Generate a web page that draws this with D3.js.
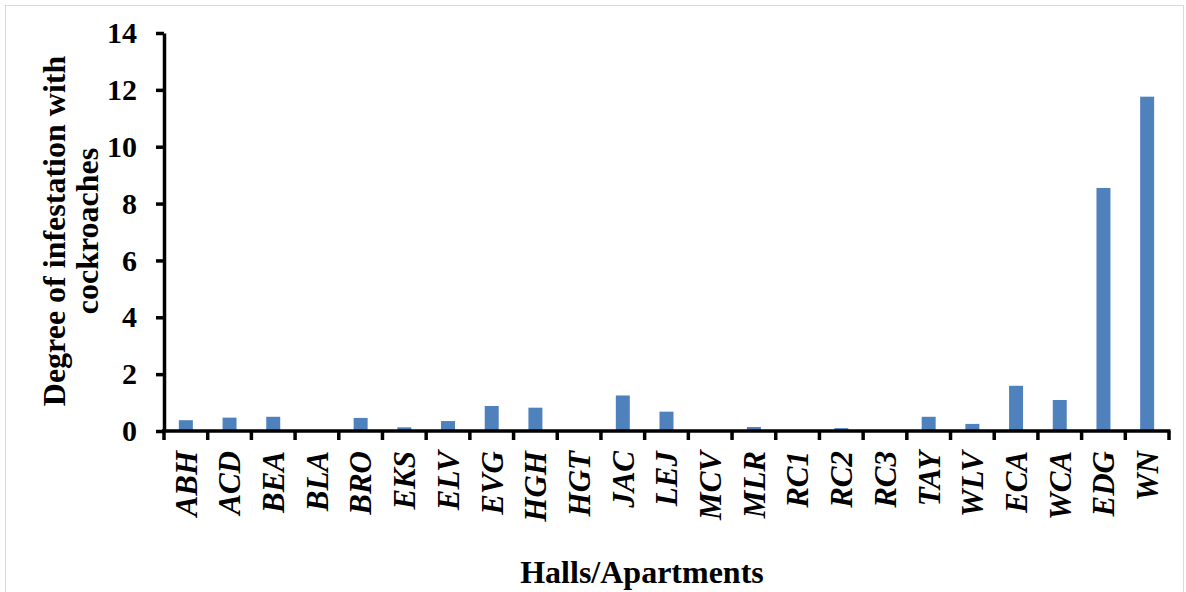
<!DOCTYPE html>
<html><head><meta charset="utf-8">
<script src="https://cdn.jsdelivr.net/npm/d3@7"></script>
<style>html,body{margin:0;padding:0;background:#fff;}svg{display:block;}</style>
</head><body>
<svg id="chart" width="1186" height="592"></svg>
<script>
const categories = ["ABH","ACD","BEA","BLA","BRO","EKS","ELV","EVG","HGH","HGT","JAC","LEJ","MCV","MLR","RC1","RC2","RC3","TAY","WLV","ECA","WCA","EDG","WN"];
const values = [0.38,0.47,0.50,0,0.46,0.13,0.35,0.88,0.82,0,1.25,0.68,0,0.14,0,0.1,0,0.5,0.25,1.59,1.09,8.55,11.76];
const yTicks = [0,2,4,6,8,10,12,14];
const yTitle = ["Degree of infestation with","cockroaches"];
const xTitle = "Halls/Apartments";

const svg = d3.select("#chart");
const font = "'Liberation Serif','Times New Roman',serif";

svg.append("rect").attr("x",5.5).attr("y",5.5).attr("width",1178).attr("height",620)
  .attr("fill","none").attr("stroke","#d9d9d9").attr("stroke-width",1);

const x = d3.scaleBand().domain(categories).range([164,1169]).paddingInner(0.68).paddingOuter(0.34);
const y = d3.scaleLinear().domain([0,14]).range([431,33]);

svg.append("g").selectAll("rect").data(categories).join("rect")
  .attr("x", d => x(d))
  .attr("width", x.bandwidth())
  .attr("y", (d,i) => y(values[i]))
  .attr("height", (d,i) => y(0) - y(values[i]))
  .attr("fill", "#4F81BD");

// Y axis
const ya = svg.append("g").attr("transform","translate(164,0)")
  .call(d3.axisLeft(y).tickValues(yTicks).tickSize(8).tickSizeOuter(0).tickPadding(19));
ya.select(".domain").attr("stroke","#000").attr("stroke-width",3.5);
ya.selectAll(".tick line").attr("stroke","#000").attr("stroke-width",3.5);
ya.selectAll(".tick text").attr("font-family",font).attr("font-weight","bold").attr("font-size",30).attr("fill","#000");

// X axis
const boundaries = d3.range(categories.length+1);
const xb = d3.scaleLinear().domain([0,categories.length]).range([164,1169]);
const xa = svg.append("g").attr("transform","translate(0,431)");
xa.append("line").attr("x1",162).attr("x2",1170.5).attr("y1",0).attr("y2",0).attr("stroke","#000").attr("stroke-width",3.5);
xa.selectAll("line.tk").data(boundaries).join("line").attr("class","tk")
  .attr("x1", d => xb(d)).attr("x2", d => xb(d)).attr("y1",0).attr("y2",9)
  .attr("stroke","#000").attr("stroke-width",3.5);
xa.selectAll("text").data(categories).join("text")
  .attr("transform", d => `translate(${x(d)+x.bandwidth()/2},20) rotate(-90)`)
  .attr("dy","0.35em").attr("text-anchor","end")
  .attr("font-family",font).attr("font-weight","bold").attr("font-style","italic").attr("font-size",31)
  .text(d => d);

// Titles
const yt = svg.append("text").attr("transform","translate(0,231) rotate(-90)")
  .attr("text-anchor","middle").attr("font-family",font).attr("font-weight","bold").attr("font-size",32);
yt.selectAll("tspan").data(yTitle).join("tspan")
  .attr("x",0).attr("y",(d,i)=> i===0 ? 65 : 98).text(d=>d);

svg.append("text").attr("x",642).attr("y",583).attr("text-anchor","middle")
  .attr("font-family",font).attr("font-weight","bold").attr("font-size",32).text(xTitle);
</script>
</body></html>
